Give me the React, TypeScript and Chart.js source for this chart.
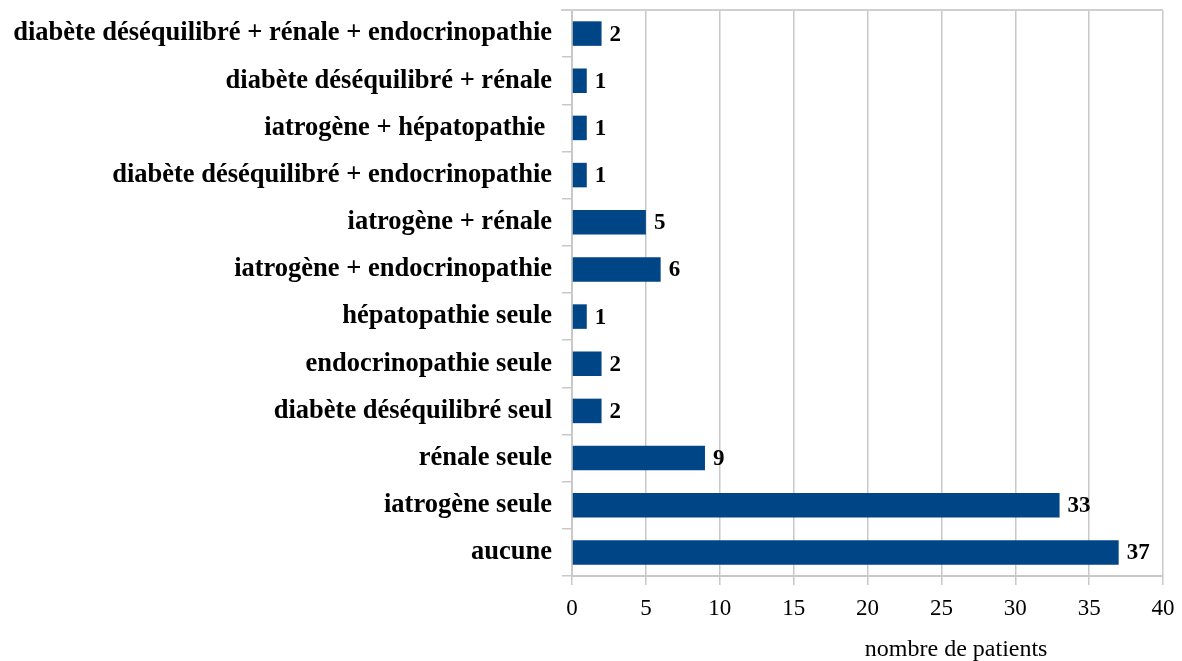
import React, { useEffect, useRef } from "react";
import { Chart, registerables } from "chart.js";

Chart.register(...registerables);

const categories = [
  "diabète déséquilibré + rénale + endocrinopathie",
  "diabète déséquilibré + rénale",
  "iatrogène + hépatopathie ",
  "diabète déséquilibré + endocrinopathie",
  "iatrogène + rénale",
  "iatrogène + endocrinopathie",
  "hépatopathie seule",
  "endocrinopathie seule",
  "diabète déséquilibré seul",
  "rénale seule",
  "iatrogène seule",
  "aucune",
];
const patients = [2, 1, 1, 1, 5, 6, 1, 2, 2, 9, 33, 37];
const xTicks = [0, 5, 10, 15, 20, 25, 30, 35, 40];
const axisTitle = "nombre de patients";

const SERIF = '"Liberation Serif", "Times New Roman", serif';

const valueLabels = {
  id: "valueLabels",
  afterDatasetsDraw(chart: any) {
    const ctx = chart.ctx;
    const meta = chart.getDatasetMeta(0);
    ctx.save();
    ctx.font = `bold 23px ${SERIF}`;
    ctx.fillStyle = "#000";
    ctx.textAlign = "left";
    ctx.textBaseline = "middle";
    meta.data.forEach((bar: any, i: number) => {
      ctx.fillText(String(patients[i]), bar.x + 8, bar.y + 1);
    });
    ctx.restore();
  },
};

const frame = {
  id: "frame",
  afterDraw(chart: any) {
    const { ctx, chartArea } = chart;
    ctx.save();
    ctx.strokeStyle = "#d0d0d0";
    ctx.lineWidth = 2;
    ctx.beginPath();
    ctx.moveTo(chartArea.left - 11, chartArea.top);
    ctx.lineTo(chartArea.right, chartArea.top);
    ctx.stroke();
    ctx.font = `24px ${SERIF}`;
    ctx.fillStyle = "#000";
    ctx.textAlign = "center";
    ctx.textBaseline = "middle";
    ctx.fillText(axisTitle, chartArea.left + (chartArea.right - chartArea.left) * 0.65, 650);
    ctx.restore();
  },
};

export default function App() {
  const ref = useRef<HTMLCanvasElement>(null);
  useEffect(() => {
    document.body.style.margin = "0";
    const chart = new Chart(ref.current!, {
      type: "bar",
      data: {
        labels: categories,
        datasets: [
          {
            data: patients,
            backgroundColor: "#004586",
            barPercentage: 0.52,
            categoryPercentage: 1,
          },
        ],
      },
      options: {
        indexAxis: "y",
        animation: false,
        responsive: false,
        layout: { padding: { top: 10, right: 19 } },
        plugins: { legend: { display: false }, tooltip: { enabled: false } },
        scales: {
          x: {
            min: 0,
            max: 40,
            afterBuildTicks: (s: any) => {
              s.ticks = xTicks.map((v) => ({ value: v }));
            },
            grid: { color: "#c8c8c8", lineWidth: 1.5, tickLength: 9 },
            border: { color: "#c8c8c8", width: 2 },
            ticks: {
              color: "#000",
              font: { family: SERIF, size: 23 },
              padding: 10,
            },
            afterFit: (s: any) => {
              s.height = 85;
              s.paddingLeft = 0;
              s.paddingRight = 0;
            },
          },
          y: {
            afterFit: (s: any) => {
              s.width = 572;
              s.paddingTop = 0;
              s.paddingBottom = 0;
            },
            grid: {
              offset: true,
              drawOnChartArea: false,
              color: "#c8c8c8",
              lineWidth: 1.5,
              tickLength: 10,
            },
            border: { color: "#c8c8c8", width: 2 },
            ticks: {
              color: "#000",
              font: { family: SERIF, size: 26.5, weight: "bold" },
              padding: 10,
              autoSkip: false,
            },
          },
        },
      },
      plugins: [valueLabels, frame],
    });
    return () => chart.destroy();
  }, []);
  return (
    <div style={{ width: 1182, height: 661 }}>
      <canvas ref={ref} width={1182} height={661} />
    </div>
  );
}
